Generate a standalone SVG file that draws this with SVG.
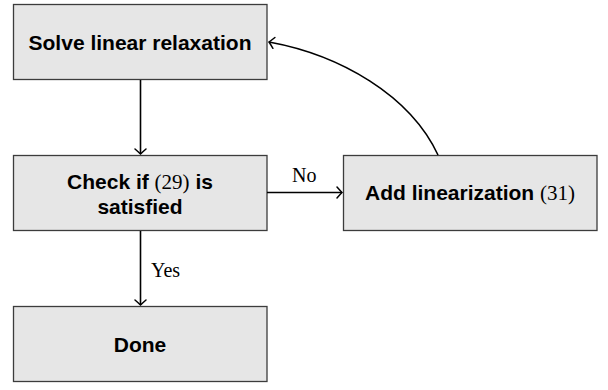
<svg xmlns="http://www.w3.org/2000/svg" width="608" height="390" viewBox="0 0 608 390">
<defs>
<style>
.box{fill:#e6e6e6;stroke:#3c3c3c;stroke-width:1.3}
.lbl{font-family:"Liberation Sans",Arial,sans-serif;font-weight:bold;font-size:21px;fill:#000;text-anchor:middle}
.ser{font-family:"Liberation Serif","Times New Roman",serif;font-weight:normal}
.edge{fill:none;stroke:#000;stroke-width:1.6}
.el{font-family:"Liberation Serif","Times New Roman",serif;font-size:20px;fill:#000}
</style>
<marker id="arr" markerUnits="userSpaceOnUse" markerWidth="16" markerHeight="16" refX="0" refY="0" viewBox="-10 -8 12 16" orient="auto">
<path d="M-5,-5.5 Q-1.5,-1.5 0,0 Q-1.5,1.5 -5,5.5" fill="none" stroke="#000" stroke-width="1.5" stroke-linecap="round"/>
</marker>
</defs>
<g id="solve">
<rect class="box" x="13.5" y="4.5" width="253.5" height="75"/>
<text class="lbl" x="140" y="50">Solve linear relaxation</text>
</g>
<g id="check">
<rect class="box" x="13.5" y="155.5" width="253.5" height="75"/>
<text class="lbl" x="140" y="189">Check if <tspan class="ser">(29)</tspan> is</text>
<text class="lbl" x="140" y="214">satisfied</text>
</g>
<g id="add">
<rect class="box" x="343.5" y="155.5" width="253.5" height="75"/>
<text class="lbl" x="470" y="200">Add linearization <tspan class="ser">(31)</tspan></text>
</g>
<g id="done">
<rect class="box" x="13.5" y="306.5" width="253.5" height="75"/>
<text class="lbl" x="140" y="352">Done</text>
</g>
<g id="connectors">
<path class="edge" d="M140.5,80 L140.5,154" marker-end="url(#arr)"/>
<path class="edge" d="M140.5,231 L140.5,305" marker-end="url(#arr)"/>
<path class="edge" d="M267,192.5 L342,192.5" marker-end="url(#arr)"/>
<path class="edge" d="M438,155 C410,95 340,55 269,42" marker-end="url(#arr)"/>
<text class="el" x="292" y="182">No</text>
<text class="el" x="151" y="277">Yes</text>
</g>
</svg>
